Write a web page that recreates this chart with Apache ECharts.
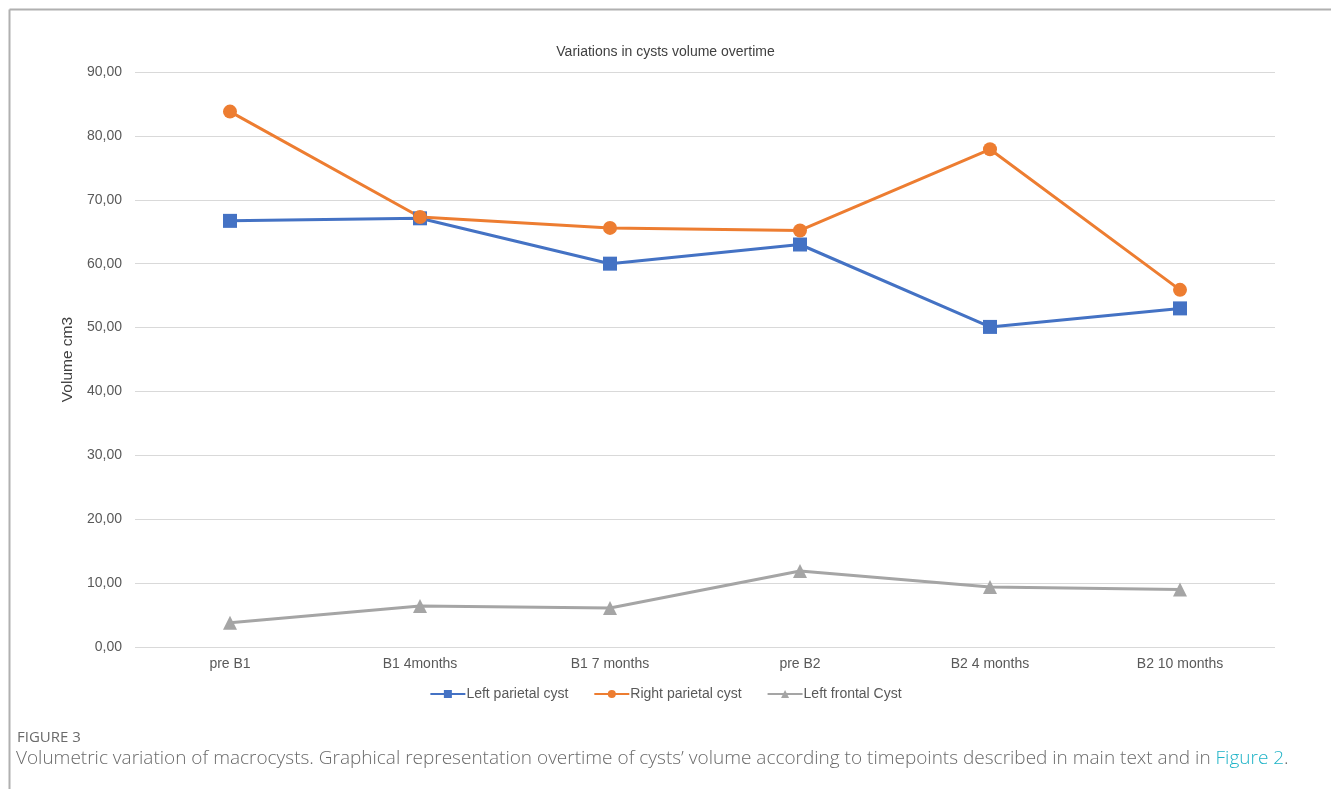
<!DOCTYPE html>
<html>
<head>
<meta charset="utf-8">
<script src="https://cdn.jsdelivr.net/npm/echarts@6/dist/echarts.min.js"></script>
<style>
  html, body { margin: 0; padding: 0; background: #fff; }
  #chart { width: 1331px; height: 789px; }
</style>
</head>
<body>
<div id="chart"></div>
<script>
// categories and series
const categories = ["pre B1", "B1 4months", "B1 7 months", "pre B2", "B2 4 months", "B2 10 months"];
const leftParietal = [66.7, 67.1, 60.0, 63.0, 50.1, 53.0];
const rightParietal = [83.8, 67.3, 65.6, 65.2, 77.9, 55.9];
const leftFrontal = [3.8, 6.4, 6.1, 11.9, 9.4, 9.0];

const chart = echarts.init(document.getElementById("chart"));

function fmt(v) {
  return v.toFixed(2).replace(".", ",");
}

function lineSeries(name, data, color, symbol, size) {
  return {
    name: name,
    type: "line",
    data: data,
    symbol: symbol,
    symbolSize: size,
    lineStyle: { color: color, width: 3 },
    itemStyle: { color: color },
    emphasis: { disabled: true }
  };
}

const option = {
  animation: false,
  backgroundColor: "#fff",
  color: ["#4472c4", "#ed7d31", "#a5a5a5"],
  title: {
    text: "Variations in cysts volume overtime",
    left: "center",
    top: 40,
    textStyle: { fontFamily: "Liberation Sans", fontSize: 14, fontWeight: "normal", color: "#404040" }
  },
  grid: { left: 135, right: 56, top: 72, bottom: 142 },
  xAxis: {
    type: "category",
    data: categories,
    boundaryGap: true,
    axisLine: { show: false },
    axisTick: { show: false },
    axisLabel: { margin: 10, fontFamily: "Liberation Sans", fontSize: 14, color: "#595959" }
  },
  yAxis: {
    type: "value",
    min: 0,
    max: 90,
    interval: 10,
    name: "Volume cm3",
    nameLocation: "middle",
    nameGap: 51,
    nameTextStyle: { fontFamily: "Liberation Sans", fontSize: 15.5, color: "#404040" },
    axisLine: { show: false },
    axisTick: { show: false },
    splitLine: { lineStyle: { color: "#d9d9d9", width: 1 } },
    axisLabel: { margin: 13, fontFamily: "Liberation Sans", fontSize: 14, color: "#595959", formatter: fmt }
  },
  legend: {
    top: 682,
    left: "center",
    itemWidth: 35,
    itemHeight: 10,
    itemGap: 25,
    textStyle: { fontFamily: "Liberation Sans", fontSize: 14, color: "#595959", padding: [0, 0, 0, -4] }
  },
  series: [
    lineSeries("Left parietal cyst", leftParietal, "#4472c4", "rect", 14),
    lineSeries("Right parietal cyst", rightParietal, "#ed7d31", "circle", 14),
    lineSeries("Left frontal Cyst", leftFrontal, "#a5a5a5", "triangle", 14)
  ],
  graphic: [
    { type: "line", shape: { x1: 9.5, y1: 9.5, x2: 1331, y2: 9.5 }, style: { stroke: "#b0b0b0", lineWidth: 2 }, silent: true },
    { type: "line", shape: { x1: 9.5, y1: 9.5, x2: 9.5, y2: 789 }, style: { stroke: "#b0b0b0", lineWidth: 2 }, silent: true },
    {
      type: "text", left: 17, top: 730,
      style: { text: "FIGURE 3", fontFamily: "Open Sans", fontSize: 15, fill: "#6b6b6b" }
    },
    {
      type: "text", left: 16, top: 749,
      style: {
        text: "{a|Volumetric variation of macrocysts. Graphical representation overtime of cysts\u2019 volume according to timepoints described in main text and in }{b|Figure 2}{a|.}",
        rich: {
          a: { fontFamily: "Open Sans", fontSize: 19, fontWeight: 300, fill: "#6a6a6a" },
          b: { fontFamily: "Open Sans", fontSize: 19, fontWeight: 300, fill: "#1fb3c7" }
        }
      }
    }
  ]
};

chart.setOption(option);
</script>
</body>
</html>
